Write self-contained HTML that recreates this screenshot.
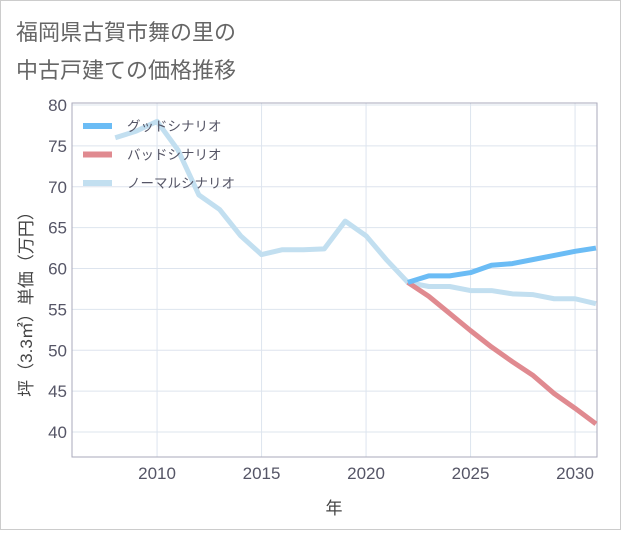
<!DOCTYPE html>
<html><head><meta charset="utf-8"><style>
body{margin:0;background:#fff;}
svg text{font-family:"Liberation Sans","Noto Sans CJK JP",sans-serif;}
</style></head><body>
<svg id="c" width="621" height="530" xmlns="http://www.w3.org/2000/svg">
<rect x="0.5" y="0.5" width="620" height="529" fill="#fff" stroke="#ccc"/>
<text x="16" y="40" font-size="22" fill="#666">福岡県古賀市舞の里の</text>
<text x="16" y="78" font-size="22" fill="#666">中古戸建ての価格推移</text>
<g id="grid"></g>
<rect x="72" y="103" width="525" height="354" fill="none" stroke="#aab"/>
<g id="series"></g>
<g id="axes"></g>
<text x="334" y="514" font-size="17" fill="#444" text-anchor="middle">年</text>
<text transform="translate(32,300) rotate(-90)" font-size="17" fill="#444" text-anchor="middle">坪（3.3㎡）単価（万円）</text>
<g id="legend"></g>
</svg>
<script>
const years=[2008,2009,2010,2011,2012,2013,2014,2015,2016,2017,2018,2019,2020,2021,2022,2023,2024,2025,2026,2027,2028,2029,2030,2031];
const normal=[76,76.8,78,74.5,69,67.2,64,61.7,62.3,62.3,62.4,65.8,64,61,58.3,57.8,57.8,57.3,57.3,56.9,56.8,56.3,56.3,55.7];
const futureYears=[2022,2023,2024,2025,2026,2027,2028,2029,2030,2031];
const good=[58.3,59.1,59.1,59.5,60.4,60.6,61.1,61.6,62.1,62.5];
const bad=[58.3,56.6,54.5,52.4,50.4,48.6,46.9,44.7,42.9,41];
const xTicks=[2010,2015,2020,2025,2030];
const yTicks=[40,45,50,55,60,65,70,75,80];
const NS="http://www.w3.org/2000/svg";
const X=v=>72+(v-2005.93)*525/25.12;
const Y=v=>105+(80-v)*327/40;
function mk(t,a,p){const e=document.createElementNS(NS,t);for(const k in a)e.setAttribute(k,a[k]);p.appendChild(e);return e;}
const grid=document.getElementById('grid'),axes=document.getElementById('axes'),ser=document.getElementById('series'),leg=document.getElementById('legend');
xTicks.forEach(t=>{
 const l=mk('line',{x1:X(t),x2:X(t),y1:103,y2:457,stroke:'#dde4ee'},grid);
 
 
 const tx=mk('text',{x:X(t),y:479,'font-size':17,fill:'#556','text-anchor':'middle'},axes);
 tx.textContent=t;
 
 
});
yTicks.forEach(t=>{
 const l=mk('line',{x1:72,x2:597,y1:Y(t),y2:Y(t),stroke:'#dde4ee'},grid);
 
 
 const tx=mk('text',{x:67,y:Y(t)+6,'font-size':17,fill:'#556','text-anchor':'end'},axes);
 tx.textContent=t;
 
 
});
function line(xs,vs,color,name){
 const p=mk('polyline',{points:xs.map((x,i)=>X(x)+','+Y(vs[i])).join(' '),fill:'none',stroke:color,'stroke-width':5,'stroke-linejoin':'round'},ser);
 
 
}
line(years,normal,'#c2dff0','normal-scenario-line');
line(futureYears,bad,'#e08a90','bad-scenario-line');
line(futureYears,good,'#6bbcf5','good-scenario-line');
[['グッドシナリオ','#6bbcf5'],['バッドシナリオ','#e08a90'],['ノーマルシナリオ','#c2dff0']].forEach((d,i)=>{
 const y=126+i*28.5;
 const l=mk('line',{x1:83,x2:112,y1:y,y2:y,stroke:d[1],'stroke-width':6},leg);
 
 
 const t=mk('text',{x:127,y:y+5,'font-size':13.5,fill:'#556'},leg);
 t.textContent=d[0];
 
 
});
</script>
</body></html>
